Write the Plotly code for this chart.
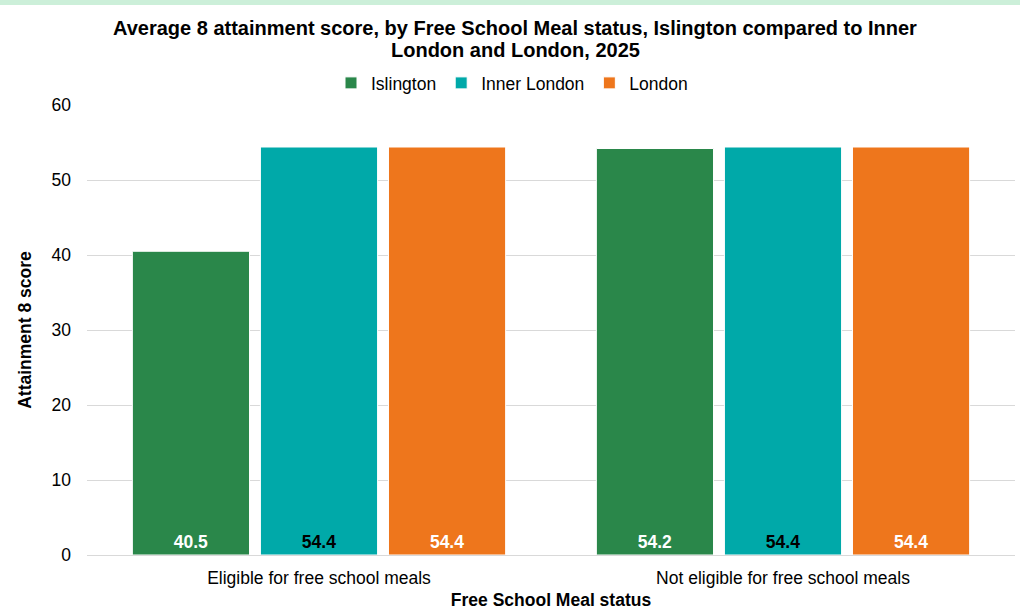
import plotly.graph_objects as go

categories = ["Eligible for free school meals", "Not eligible for free school meals"]
islington = [40.5, 54.2]
inner_london = [54.4, 54.4]
london = [54.4, 54.4]
series_names = ["Islington", "Inner London", "London"]
colors = ["#2A874A", "#00A9A9", "#EE761C"]
label_colors = ["white", "black", "white"]
y_ticks = [0, 10, 20, 30, 40, 50, 60]
title_lines = ["Average 8 attainment score, by Free School Meal status, Islington compared to Inner",
               "London and London, 2025"]

FONT = "Liberation Sans, Arial, sans-serif"
FS = 17.5

fig = go.Figure()
for name, vals, col, lc in zip(series_names, [islington, inner_london, london], colors, label_colors):
    fig.add_trace(go.Bar(
        x=categories, y=vals, name=name,
        marker=dict(color=col, line=dict(color="white", width=1)),
        text=[f"{v:.1f}" for v in vals],
        textposition="inside", insidetextanchor="start",
        textfont=dict(family=FONT, size=FS, color=lc, weight="bold"),
        textangle=0,
        cliponaxis=False,
    ))

W, H = 1020, 612
L, R, T, B = 87, 5, 105, 57
pw, ph = W - L - R, H - T - B

def px_x(x):
    return (x - L) / pw

def px_y(y):
    return (H - B - y) / ph

annotations = [
    dict(text=line, xref="paper", yref="paper", x=px_x(515), y=px_y(yy),
         xanchor="center", yanchor="middle", showarrow=False,
         font=dict(family=FONT, size=20, color="black", weight="bold"))
    for line, yy in zip(title_lines, [28, 50])
]

fig.update_layout(
    width=W, height=H,
    margin=dict(l=L, r=R, t=T, b=B, autoexpand=False),
    paper_bgcolor="white", plot_bgcolor="white",
    barmode="group", bargap=0.172, bargroupgap=0.085,
    font=dict(family=FONT, size=FS, color="#000000"),
    annotations=annotations,
    legend=dict(orientation="h", x=px_x(512), xanchor="center",
                y=px_y(83), yanchor="middle",
                font=dict(family=FONT, size=FS, color="black"),
                itemwidth=30, traceorder="normal", itemclick=False),
    xaxis=dict(
        title=dict(text="Free School Meal status", font=dict(family=FONT, size=FS, weight="bold"), standoff=6),
        showgrid=False, showline=True, linecolor="#d9d9d9", linewidth=1,
        ticks="", tickfont=dict(size=FS), ticklabelstandoff=7, automargin=False,
    ),
    yaxis=dict(
        title=dict(text="Attainment 8 score", font=dict(family=FONT, size=FS, weight="bold"), standoff=15),
        range=[0, 60], tickvals=y_ticks, showgrid=True, gridcolor="#d9d9d9", gridwidth=1,
        zeroline=False, showline=False, ticks="", tickfont=dict(size=FS),
        ticklabelstandoff=15, automargin=False,
    ),
    shapes=[dict(type="rect", xref="paper", yref="paper",
                 x0=-L / pw, x1=1 + R / pw, y0=1 + (T - 5) / ph, y1=1 + T / ph,
                 fillcolor="#CCEFD9", line=dict(width=0), layer="below")],
)

fig.write_html("out.html", config={"displayModeBar": False},
               post_script="document.body.style.margin='0';document.body.style.padding='0';")
